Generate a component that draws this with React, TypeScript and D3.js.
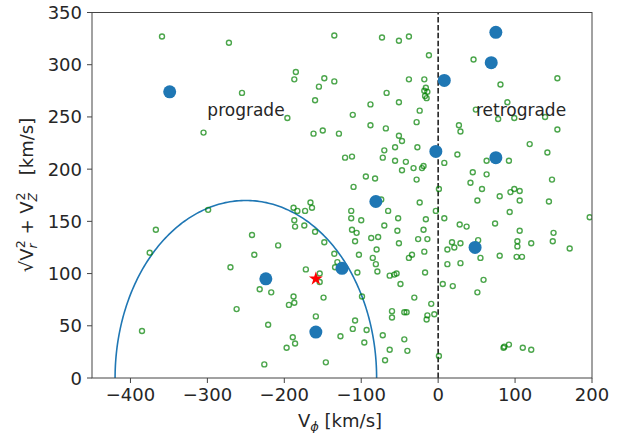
import React from "react";
import * as d3 from "d3";

// Field stars: [V_phi, sqrt(V_r^2 + V_Z^2)] in km/s
const fieldStars: [number, number][] = [
  [-359, 327], [-272, 321], [-255, 273], [-305, 235],
  [-135, 328], [-73, 326], [-51, 323], [-38, 327], [-12, 309],
  [-185, 293], [-187, 286], [-148, 287], [-135, 284], [-155, 279], [-160, 266], [-196, 249],
  [-111, 252], [-88, 262], [-67, 273], [-51, 264], [-38, 286], [-18, 286],
  [-16, 278], [-18, 275], [-14, 274], [-17, 270], [-15, 268],
  [-24, 256], [-28, 245], [-88, 242], [-68, 239], [-51, 232], [-162, 234], [-150, 237], [-129, 234],
  [46, 305], [81, 281], [155, 287], [90, 264], [49, 257], [78, 248], [99, 249], [139, 250], [155, 238], [27, 242], [29, 236],
  [-299, 161], [-367, 142], [-375, 120], [-242, 137], [-239, 118],
  [-47, 227], [-70, 218], [-56, 221], [-27, 221], [-72, 211], [-121, 211], [-112, 212], [-56, 208], [-42, 207],
  [-32, 201], [-21, 201], [-19, 203], [-47, 199], [-28, 190], [-94, 193], [-82, 191], [-110, 183], [-74, 171],
  [-24, 168], [-65, 160], [-113, 160], [-113, 153], [-100, 151], [-52, 153], [-16, 152],
  [-166, 168], [-164, 163], [-173, 160], [-188, 163], [-183, 160], [-187, 151], [-186, 145], [-174, 146],
  [-160, 140], [-208, 127], [-148, 130], [-70, 146], [-112, 142], [-106, 139], [-53, 141], [-19, 142],
  [-26, 133], [-14, 133], [-108, 131], [-87, 134], [-78, 135], [-51, 129], [-80, 123], [-103, 118],
  [-85, 115], [-135, 119], [-34, 118], [-38, 115], [-18, 121],
  [119, 224], [142, 216], [25, 214], [8, 206], [63, 208], [92, 208], [45, 197], [63, 195], [42, 187],
  [148, 190], [1, 181], [57, 181], [99, 181], [94, 178], [106, 179], [80, 174], [51, 170], [106, 170],
  [144, 169], [-3, 160], [93, 159], [8, 153], [197, 154], [28, 147], [37, 145], [74, 148], [106, 141],
  [150, 139], [149, 131], [18, 130], [21, 125], [29, 129], [52, 132], [103, 131], [103, 126], [121, 129],
  [171, 124], [12, 123], [55, 115], [80, 117], [102, 116], [109, 116],
  [12, 109], [29, 110], [-17, 101], [6, 90], [19, 88], [59, 94], [51, 82], [-9, 71], [-14, 60], [-15, 56],
  [-5, 61], [1, 21], [85, 29], [86, 30], [92, 32], [110, 29], [121, 27],
  [-172, 104], [-154, 100], [-154, 92], [-131, 111], [-134, 106], [-81, 109], [-79, 102], [-105, 101],
  [-63, 98], [-57, 99], [-54, 100], [-49, 90], [-31, 77], [-232, 85], [-217, 82], [-188, 78], [-194, 70],
  [-187, 72], [-149, 77], [-99, 78], [-60, 64], [-60, 58], [-44, 63], [-41, 63], [-159, 59], [-221, 51],
  [-108, 55], [-111, 47], [-93, 46], [-127, 40], [-189, 39], [-186, 33], [-197, 29], [-96, 34], [-72, 41],
  [-44, 37], [-63, 27], [-40, 26], [-69, 17], [-146, 15], [-226, 13],
  [-270, 106], [-262, 66], [-385, 45],
];

// Highlighted members
const members: [number, number][] = [
  [-349, 274], [8, 285], [75, 331], [69, 302], [-3, 217], [75, 211],
  [-81, 169], [48, 125], [-125, 105], [-224, 95], [-159, 44],
];

// Reference object
const target: [number, number] = [-159, 95];

// Halo boundary: half-ellipse centred on V_phi = -250 km/s
const haloCenter = -250;
const haloRadius = 170;

const xTicks = [-400, -300, -200, -100, 0, 100, 200];
const yTicks = [0, 50, 100, 150, 200, 250, 300, 350];

const W = 620;
const H = 433;
const left = 92;
const right = 592;
const top = 12.5;
const bottom = 378;

const FONT = "'DejaVu Sans', sans-serif";
const TXT = "#262626";

export default function App() {
  const x = d3.scaleLinear().domain([-450, 200]).range([left, right]);
  const y = d3.scaleLinear().domain([0, 350]).range([bottom, top]);

  const angles = d3.range(0, 181).map((d) => (d * Math.PI) / 180);
  const haloPath =
    d3
      .line<number>()
      .x((t) => x(haloCenter + haloRadius * Math.cos(t)))
      .y((t) => y(haloRadius * Math.sin(t)))(angles) || "";

  const star = d3.symbol().type(d3.symbolStar).size(60)() || "";

  return (
    <svg
      width={W}
      height={H}
      style={{ position: "absolute", left: 0, top: 0, background: "#fff" }}
    >
      <defs>
        <clipPath id="plot">
          <rect x={left} y={top} width={right - left} height={bottom - top} />
        </clipPath>
      </defs>

      <g clipPath="url(#plot)">
        <path d={haloPath} fill="none" stroke="#1f77b4" strokeWidth={1.6} />
        <line
          x1={x(0)}
          x2={x(0)}
          y1={y(0)}
          y2={y(350)}
          stroke="#222"
          strokeWidth={1.6}
          strokeDasharray="5.5,2.4"
        />
        {fieldStars.map(([vx, vy], i) => (
          <circle
            key={i}
            cx={x(vx)}
            cy={y(vy)}
            r={2.5}
            fill="none"
            stroke="#008000"
            strokeOpacity={0.7}
            strokeWidth={1.4}
          />
        ))}
        {members.map(([vx, vy], i) => (
          <circle key={i} cx={x(vx)} cy={y(vy)} r={6.5} fill="#1f77b4" />
        ))}
        <path d={star} transform={`translate(${x(target[0])},${y(target[1])})`} fill="red" />
      </g>

      <text x={246} y={116} fontFamily={FONT} fontSize={17} fill={TXT} textAnchor="middle">
        prograde
      </text>
      <text x={521} y={116} fontFamily={FONT} fontSize={17} fill={TXT} textAnchor="middle">
        retrograde
      </text>

      <rect
        x={left}
        y={top}
        width={right - left}
        height={bottom - top}
        fill="none"
        stroke="#444"
        strokeWidth={1}
      />

      {xTicks.map((t) => (
        <g key={t}>
          <line x1={x(t)} x2={x(t)} y1={bottom} y2={bottom + 5} stroke="#444" />
          <text
            x={x(t)}
            y={401}
            fontFamily={FONT}
            fontSize={18}
            fill={TXT}
            textAnchor="middle"
          >
            {t < 0 ? `\u2212${Math.abs(t)}` : t}
          </text>
        </g>
      ))}
      {yTicks.map((t) => (
        <g key={t}>
          <line x1={left - 5} x2={left} y1={y(t)} y2={y(t)} stroke="#444" />
          <text
            x={82}
            y={y(t) + 6.5}
            fontFamily={FONT}
            fontSize={18}
            fill={TXT}
            textAnchor="end"
          >
            {t}
          </text>
        </g>
      ))}

      <text x={340} y={427} fontFamily={FONT} fontSize={18} fill={TXT} textAnchor="middle">
        V
        <tspan fontSize={13} fontStyle="italic" dy={4}>
          ϕ
        </tspan>
        <tspan dy={-4}> [km/s]</tspan>
      </text>

      <g transform="translate(33,195) rotate(-90)">
        <text x={0} y={0} fontFamily={FONT} fontSize={18} fill={TXT} textAnchor="middle">
          √V
          <tspan fontSize={12.5} fontStyle="italic" dy={4}>
            r
          </tspan>
          <tspan fontSize={12.5} dx={-5} dy={-12}>
            2
          </tspan>
          <tspan dy={8}> + V</tspan>
          <tspan fontSize={12.5} fontStyle="italic" dy={4}>
            Z
          </tspan>
          <tspan fontSize={12.5} dx={-7.5} dy={-12}>
            2
          </tspan>
          <tspan dy={8}>{"\u00a0\u00a0\u00a0[km/s]"}</tspan>
        </text>
      </g>
    </svg>
  );
}
